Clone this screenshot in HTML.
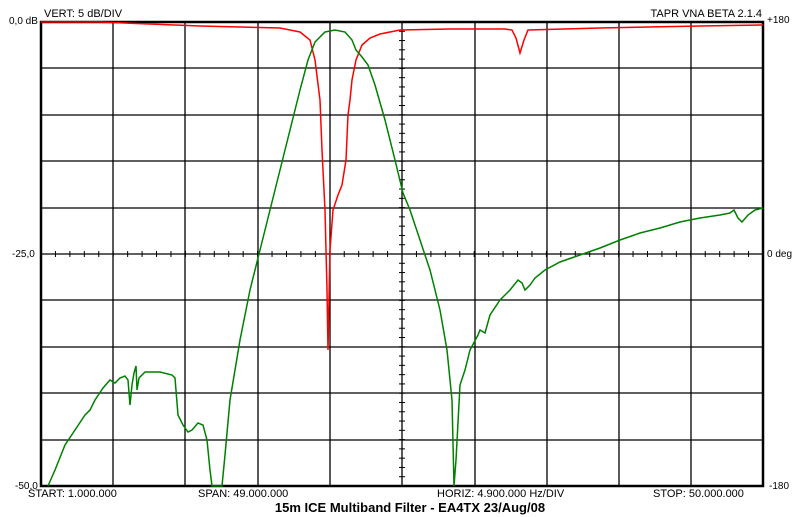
<!DOCTYPE html>
<html><head><style>body{margin:0;background:#fff}svg{display:block}</style></head><body>
<svg width="795" height="517" xmlns="http://www.w3.org/2000/svg" font-family="Liberation Sans, sans-serif">
<defs>
<pattern id="ph" patternUnits="userSpaceOnUse" x="40.5" y="0" width="14.44" height="10"><rect x="0" y="0" width="1" height="10" fill="#000"/></pattern>
<pattern id="pv" patternUnits="userSpaceOnUse" x="0" y="21.5" width="10" height="9.28"><rect x="0" y="0" width="10" height="1" fill="#000"/></pattern>
</defs>
<rect width="795" height="517" fill="#fff"/>
<g stroke="#000" stroke-width="1.3">
<line x1="113" y1="22" x2="113" y2="486"/><line x1="185" y1="22" x2="185" y2="486"/><line x1="258" y1="22" x2="258" y2="486"/><line x1="330" y1="22" x2="330" y2="486"/><line x1="402" y1="22" x2="402" y2="486"/><line x1="475" y1="22" x2="475" y2="486"/><line x1="547" y1="22" x2="547" y2="486"/><line x1="619" y1="22" x2="619" y2="486"/><line x1="691" y1="22" x2="691" y2="486"/>
<line x1="41" y1="68" x2="763" y2="68"/><line x1="41" y1="115" x2="763" y2="115"/><line x1="41" y1="161" x2="763" y2="161"/><line x1="41" y1="208" x2="763" y2="208"/><line x1="41" y1="254" x2="763" y2="254"/><line x1="41" y1="300" x2="763" y2="300"/><line x1="41" y1="347" x2="763" y2="347"/><line x1="41" y1="393" x2="763" y2="393"/><line x1="41" y1="440" x2="763" y2="440"/>
</g>
<rect x="41" y="251" width="722" height="6" fill="url(#ph)"/>
<rect x="399" y="22" width="6" height="464" fill="url(#pv)"/>
<rect x="41" y="22" width="722" height="464" fill="none" stroke="#000" stroke-width="2.5"/>
<polyline fill="none" stroke="#ff0000" stroke-width="1.5" points="41,22 100,22 200,26 280,28 300,32 310,40 315,60 320,100 322,150 325,210 327,290 328,350 329,300 330,250 333,210 338,195 342,185 346,160 348,115 350,100 352,80 356,60 362,45 370,38 380,34 400,30 450,29 505,29 512,30 516,38 520,53 524,40 528,30 600,28 700,26 763,25"/>
<polyline fill="none" stroke="#008000" stroke-width="1.5" points="48,486 55,470 65,445 75,430 85,415 90,410 95,400 103,388 110,380 115,383 120,378 125,376 128,380 130,405 132,385 134,373 136,366 137,390 139,378 145,372 160,372 172,375 175,378 178,415 183,425 188,432 192,430 198,423 203,425 207,440 210,470 212,486 222,486 225,455 230,400 240,340 250,290 260,250 270,210 280,170 290,130 300,90 308,60 315,42 325,32 335,30 345,32 352,40 356,50 362,57 368,65 375,85 385,120 395,160 403,193 410,210 420,240 430,270 440,310 447,350 452,400 454,486 456,460 460,385 465,370 470,350 478,335 480,330 485,333 490,315 500,300 510,290 518,280 522,283 525,290 530,285 535,278 545,270 560,262 580,255 600,248 620,240 640,233 660,228 680,222 700,218 720,215 730,213 734,210 738,218 742,222 748,215 755,210 763,208"/>
<g font-size="10" fill="#000">
<text x="9" y="24">0,0 dB</text>
<text x="44" y="17" font-size="11">VERT:  5 dB/DIV</text>
<text x="12" y="257">-25,0</text>
<text x="15" y="489">-50,0</text>
<text x="767" y="23">+180</text>
<text x="767" y="257">0 deg</text>
<text x="769" y="489">-180</text>
<text x="762" y="17" font-size="11" text-anchor="end">TAPR VNA BETA 2.1.4</text>
<text x="28" y="497" font-size="11">START: 1.000.000</text>
<text x="198" y="497" font-size="11">SPAN: 49.000.000</text>
<text x="437" y="497" font-size="11">HORIZ: 4.900.000 Hz/DIV</text>
<text x="653" y="497" font-size="11">STOP: 50.000.000</text>
<text x="410" y="512" font-size="13" font-weight="bold" text-anchor="middle">15m ICE Multiband Filter - EA4TX 23/Aug/08</text>
</g>
</svg>
</body></html>
